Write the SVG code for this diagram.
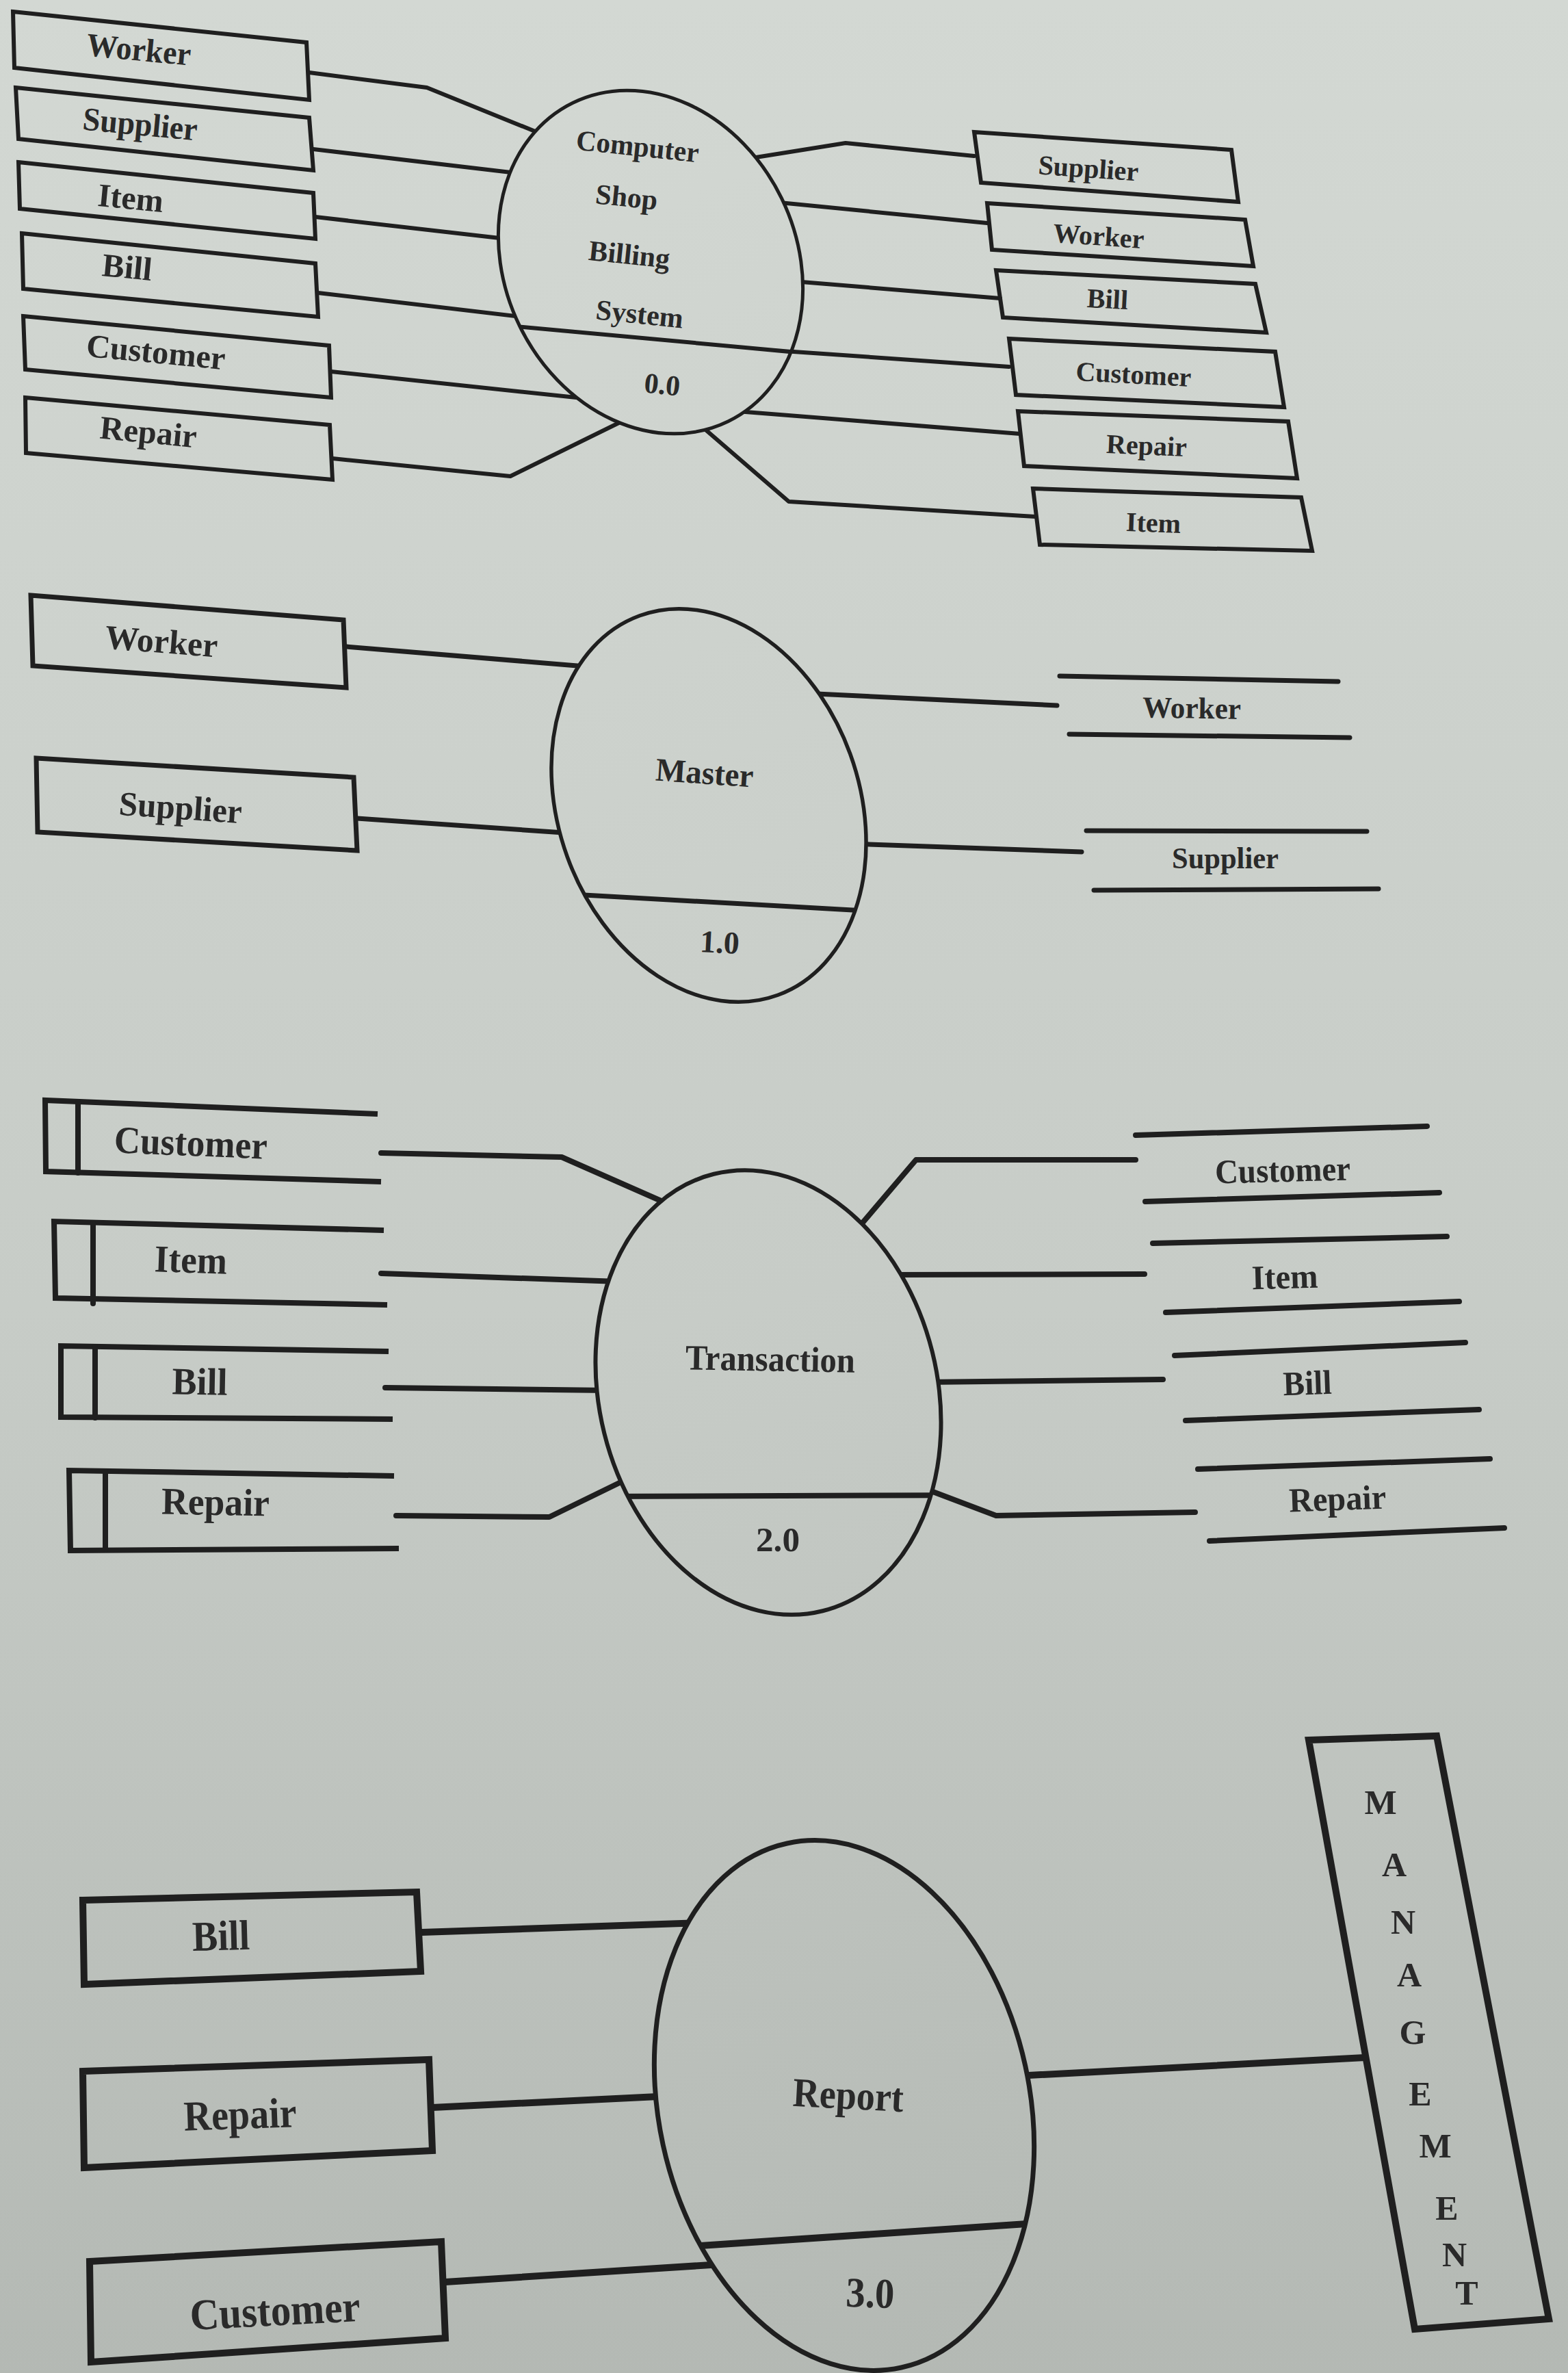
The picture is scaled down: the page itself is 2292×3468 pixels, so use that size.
<svg xmlns="http://www.w3.org/2000/svg" width="2292" height="3468" viewBox="0 0 2292 3468">
<defs>
<linearGradient id="paper" gradientUnits="userSpaceOnUse" x1="0" y1="0" x2="0" y2="3468">
<stop offset="0" stop-color="#d3d8d3"/>
<stop offset="0.55" stop-color="#c7ccc7"/>
<stop offset="1" stop-color="#b4b9b4"/>
</linearGradient>
<clipPath id="c1"><ellipse cx="951" cy="383" rx="213" ry="259" transform="rotate(-26 951 383)"/></clipPath>
<clipPath id="c2"><ellipse cx="1036" cy="1177" rx="220" ry="295" transform="rotate(-20 1036 1177)"/></clipPath>
<clipPath id="c3"><ellipse cx="1123" cy="2035" rx="247" ry="329" transform="rotate(-14 1123 2035)"/></clipPath>
<clipPath id="c4"><ellipse cx="1234" cy="3077" rx="271" ry="392" transform="rotate(-12.3 1234 3077)"/></clipPath>
</defs>
<style>
.ln{fill:none;stroke:#1f1f1f;stroke-linecap:round;stroke-linejoin:round}
.box{fill:none;stroke:#1f1f1f;stroke-linejoin:miter}
.proc{fill:url(#paper);stroke:#1f1f1f}
.t{font-family:"Liberation Serif","Times New Roman",serif;font-weight:bold;fill:#2a2a2a;text-anchor:middle;dominant-baseline:central}
.s1{stroke-width:6}
.s2{stroke-width:7}
.s3{stroke-width:8}
.s4{stroke-width:10}
</style>
<rect x="0" y="0" width="2292" height="3468" fill="url(#paper)"/>

<g id="connectors">
<!-- section 1 -->
<polyline class="ln s1" points="452,106 624,128 792,196"/>
<polyline class="ln s1" points="458,218 764,254"/>
<polyline class="ln s1" points="461,317 748,350"/>
<polyline class="ln s1" points="465,428 779,465"/>
<polyline class="ln s1" points="484,543 871,584"/>
<polyline class="ln s1" points="486,670 746,696 929,606"/>
<polyline class="ln s1" points="1080,234 1236,209 1424,228"/>
<polyline class="ln s1" points="1109,293 1443,326"/>
<polyline class="ln s1" points="1147,410 1462,436"/>
<polyline class="ln s1" points="1131,512 1475,536"/>
<polyline class="ln s1" points="1077,601 1491,634"/>
<polyline class="ln s1" points="1022,620 1153,733 1513,755"/>
<!-- section 2 -->
<polyline class="ln s2" points="506,945 868,975"/>
<polyline class="ln s2" points="522,1196 839,1218"/>
<polyline class="ln s2" points="1173,1013 1545,1031"/>
<polyline class="ln s2" points="1243,1233 1581,1245"/>
<!-- section 3 -->
<polyline class="ln s3" points="557,1685 821,1691 980,1761"/>
<polyline class="ln s3" points="557,1861 905,1873"/>
<polyline class="ln s3" points="563,2028 889,2032"/>
<polyline class="ln s3" points="579,2215 803,2217 928,2156"/>
<polyline class="ln s3" points="1243,1808 1339,1695 1660,1695"/>
<polyline class="ln s3" points="1306,1863 1673,1862"/>
<polyline class="ln s3" points="1351,2020 1700,2016"/>
<polyline class="ln s3" points="1345,2173 1456,2215 1747,2210"/>
<!-- section 4 -->
<polyline class="ln s4" points="616,2824 1026,2810"/>
<polyline class="ln s4" points="632,3080 982,3063"/>
<polyline class="ln s4" points="651,3335 1055,3309"/>
<polyline class="ln s4" points="1485,3034 1995,3007"/>
</g>

<!-- ===== Section 1 : context ===== -->
<g id="s1-left-worker"><polygon class="box s1" points="19,17 448,62 452,146 21,99"/><text class="t" x="203" y="72" font-size="48" textLength="153" lengthAdjust="spacingAndGlyphs" transform="rotate(5.5 203 72)">Worker</text></g>
<g id="s1-left-supplier"><polygon class="box s1" points="23,128 452,172 458,249 27,203"/><text class="t" x="205" y="181" font-size="48" textLength="168" lengthAdjust="spacingAndGlyphs" transform="rotate(5.5 205 181)">Supplier</text></g>
<g id="s1-left-item"><polygon class="box s1" points="27,237 458,282 461,349 29,305"/><text class="t" x="191" y="289" font-size="48" textLength="96" lengthAdjust="spacingAndGlyphs" transform="rotate(5.5 191 289)">Item</text></g>
<g id="s1-left-bill"><polygon class="box s1" points="32,341 461,385 465,463 34,422"/><text class="t" x="186" y="390" font-size="48" textLength="73" lengthAdjust="spacingAndGlyphs" transform="rotate(5.5 186 390)">Bill</text></g>
<g id="s1-left-customer"><polygon class="box s1" points="34,462 481,505 484,581 37,540"/><text class="t" x="228" y="514" font-size="48" textLength="204" lengthAdjust="spacingAndGlyphs" transform="rotate(5.5 228 514)">Customer</text></g>
<g id="s1-left-repair"><polygon class="box s1" points="37,581 482,621 486,701 38,662"/><text class="t" x="217" y="631" font-size="48" textLength="142" lengthAdjust="spacingAndGlyphs" transform="rotate(5.5 217 631)">Repair</text></g>

<g id="s1-process">
<ellipse class="proc" stroke-width="5" cx="951" cy="383" rx="213" ry="259" transform="rotate(-26 951 383)"/>
<line class="ln s1" x1="700" y1="472" x2="1220" y2="520" clip-path="url(#c1)"/>
<text class="t" x="932" y="214" font-size="42" textLength="180" lengthAdjust="spacingAndGlyphs" transform="rotate(6 932 214)">Computer</text>
<text class="t" x="916" y="288" font-size="42" transform="rotate(6 916 288)">Shop</text>
<text class="t" x="920" y="372" font-size="42" transform="rotate(6 920 372)">Billing</text>
<text class="t" x="935" y="459" font-size="42" transform="rotate(6 935 459)">System</text>
<text class="t" x="968" y="562" font-size="42" transform="rotate(6 968 562)">0.0</text>
</g>

<g id="s1-right-supplier"><polygon class="box s1" points="1424,193 1800,219 1810,295 1434,267"/><text class="t" x="1591" y="246" font-size="40" transform="rotate(4 1591 246)">Supplier</text></g>
<g id="s1-right-worker"><polygon class="box s1" points="1443,297 1820,321 1832,389 1450,365"/><text class="t" x="1606" y="345" font-size="40" transform="rotate(4 1606 345)">Worker</text></g>
<g id="s1-right-bill"><polygon class="box s1" points="1456,395 1835,415 1851,486 1466,464"/><text class="t" x="1619" y="437" font-size="40" transform="rotate(3 1619 437)">Bill</text></g>
<g id="s1-right-customer"><polygon class="box s1" points="1475,495 1864,514 1877,595 1485,577"/><text class="t" x="1657" y="547" font-size="40" transform="rotate(3 1657 547)">Customer</text></g>
<g id="s1-right-repair"><polygon class="box s1" points="1488,601 1883,616 1896,699 1497,681"/><text class="t" x="1676" y="651" font-size="40" transform="rotate(2.5 1676 651)">Repair</text></g>
<g id="s1-right-item"><polygon class="box s1" points="1510,714 1902,727 1918,805 1520,796"/><text class="t" x="1686" y="764" font-size="40" transform="rotate(2 1686 764)">Item</text></g>

<!-- ===== Section 2 : Master ===== -->
<g id="s2-left-worker"><polygon class="box s2" points="45,870 502,906 506,1005 48,973"/><text class="t" x="236" y="937" font-size="50" textLength="165" lengthAdjust="spacingAndGlyphs" transform="rotate(4.5 236 937)">Worker</text></g>
<g id="s2-left-supplier"><polygon class="box s2" points="53,1108 517,1136 522,1243 55,1216"/><text class="t" x="264" y="1180" font-size="50" textLength="180" lengthAdjust="spacingAndGlyphs" transform="rotate(4 264 1180)">Supplier</text></g>
<g id="s2-process">
<ellipse class="proc" stroke-width="5.5" cx="1036" cy="1177" rx="220" ry="295" transform="rotate(-20 1036 1177)"/>
<line class="ln s2" x1="800" y1="1305" x2="1300" y2="1333" clip-path="url(#c2)"/>
<text class="t" x="1030" y="1129" font-size="48" textLength="143" lengthAdjust="spacingAndGlyphs" transform="rotate(4 1030 1129)">Master</text>
<text class="t" x="1052" y="1377" font-size="46" transform="rotate(3 1052 1377)">1.0</text>
</g>
<g id="s2-store-worker"><line class="ln s2" x1="1549" y1="988" x2="1956" y2="996"/><line class="ln s2" x1="1563" y1="1073" x2="1973" y2="1078"/><text class="t" x="1742" y="1035" font-size="44" textLength="144" lengthAdjust="spacingAndGlyphs" transform="rotate(1 1742 1035)">Worker</text></g>
<g id="s2-store-supplier"><line class="ln s2" x1="1588" y1="1214" x2="1998" y2="1215"/><line class="ln s2" x1="1599" y1="1301" x2="2015" y2="1299"/><text class="t" x="1791" y="1254" font-size="44" textLength="156" lengthAdjust="spacingAndGlyphs">Supplier</text></g>

<!-- ===== Section 3 : Transaction ===== -->
<g id="s3-store-customer-in"><path class="box s3" d="M552,1628 L66,1608 L67,1712 L557,1727"/><line class="ln s3" x1="114" y1="1610" x2="114" y2="1714"/><text class="t" x="279" y="1670" font-size="56" textLength="224" lengthAdjust="spacingAndGlyphs" transform="rotate(2.4 279 1670)">Customer</text></g>
<g id="s3-store-item-in"><path class="box s3" d="M561,1798 L79,1785 L81,1897 L566,1907"/><line class="ln s3" x1="136" y1="1787" x2="136" y2="1905"/><text class="t" x="279" y="1841" font-size="56" textLength="106" lengthAdjust="spacingAndGlyphs" transform="rotate(2 279 1841)">Item</text></g>
<g id="s3-store-bill-in"><path class="box s3" d="M568,1975 L89,1967 L89,2071 L574,2074"/><line class="ln s3" x1="139" y1="1968" x2="139" y2="2072"/><text class="t" x="292" y="2019" font-size="56" textLength="81" lengthAdjust="spacingAndGlyphs" transform="rotate(1 292 2019)">Bill</text></g>
<g id="s3-store-repair-in"><path class="box s3" d="M576,2157 L101,2149 L103,2266 L583,2263"/><line class="ln s3" x1="154" y1="2150" x2="154" y2="2265"/><text class="t" x="315" y="2195" font-size="56" textLength="158" lengthAdjust="spacingAndGlyphs" transform="rotate(1 315 2195)">Repair</text></g>
<g id="s3-process">
<ellipse class="proc" stroke-width="6" cx="1123" cy="2035" rx="247" ry="329" transform="rotate(-14 1123 2035)"/>
<line class="ln s3" x1="850" y1="2187" x2="1420" y2="2185" clip-path="url(#c3)"/>
<text class="t" x="1126" y="1986" font-size="52" textLength="248" lengthAdjust="spacingAndGlyphs" transform="rotate(1 1126 1986)">Transaction</text>
<text class="t" x="1137" y="2250" font-size="50" textLength="64" lengthAdjust="spacingAndGlyphs">2.0</text>
</g>
<g id="s3-store-customer-out"><line class="ln s3" x1="1660" y1="1659" x2="2086" y2="1646"/><line class="ln s3" x1="1674" y1="1756" x2="2104" y2="1743"/><text class="t" x="1875" y="1710" font-size="50" textLength="198" lengthAdjust="spacingAndGlyphs" transform="rotate(-1.5 1875 1710)">Customer</text></g>
<g id="s3-store-item-out"><line class="ln s3" x1="1685" y1="1817" x2="2115" y2="1807"/><line class="ln s3" x1="1704" y1="1918" x2="2133" y2="1902"/><text class="t" x="1878" y="1866" font-size="50" textLength="97" lengthAdjust="spacingAndGlyphs" transform="rotate(-1.5 1878 1866)">Item</text></g>
<g id="s3-store-bill-out"><line class="ln s3" x1="1717" y1="1981" x2="2142" y2="1962"/><line class="ln s3" x1="1733" y1="2076" x2="2162" y2="2060"/><text class="t" x="1911" y="2021" font-size="50" textLength="71" lengthAdjust="spacingAndGlyphs" transform="rotate(-2 1911 2021)">Bill</text></g>
<g id="s3-store-repair-out"><line class="ln s3" x1="1751" y1="2147" x2="2178" y2="2132"/><line class="ln s3" x1="1768" y1="2252" x2="2199" y2="2233"/><text class="t" x="1955" y="2190" font-size="50" textLength="142" lengthAdjust="spacingAndGlyphs" transform="rotate(-2 1955 2190)">Repair</text></g>

<!-- ===== Section 4 : Report ===== -->
<g id="s4-bill"><polygon class="box s4" points="121,2777 609,2765 615,2881 123,2900"/><text class="t" x="323" y="2829" font-size="62" textLength="84" lengthAdjust="spacingAndGlyphs" transform="rotate(-1.5 323 2829)">Bill</text></g>
<g id="s4-repair"><polygon class="box s4" points="121,3027 627,3010 632,3143 123,3168"/><text class="t" x="351" y="3090" font-size="62" textLength="165" lengthAdjust="spacingAndGlyphs" transform="rotate(-2 351 3090)">Repair</text></g>
<g id="s4-customer"><polygon class="box s4" points="131,3305 645,3276 651,3417 133,3452"/><text class="t" x="402" y="3377" font-size="64" textLength="249" lengthAdjust="spacingAndGlyphs" transform="rotate(-3 402 3377)">Customer</text></g>
<g id="s4-process">
<ellipse class="proc" stroke-width="7" cx="1234" cy="3077" rx="271" ry="392" transform="rotate(-12.3 1234 3077)"/>
<line class="ln s4" x1="980" y1="3285" x2="1560" y2="3246" clip-path="url(#c4)"/>
<text class="t" x="1240" y="3062" font-size="60" textLength="162" lengthAdjust="spacingAndGlyphs" transform="rotate(3 1240 3062)">Report</text>
<text class="t" x="1272" y="3351" font-size="62" textLength="71" lengthAdjust="spacingAndGlyphs" transform="rotate(2 1272 3351)">3.0</text>
</g>
<g id="s4-management">
<polygon class="box s4" stroke-width="8" points="1913,2543 2100,2537 2264,3389 2068,3404"/>
<text class="t" font-size="50" x="2018" y="2634">M</text>
<text class="t" font-size="50" x="2038" y="2725">A</text>
<text class="t" font-size="50" x="2051" y="2809">N</text>
<text class="t" font-size="50" x="2060" y="2886">A</text>
<text class="t" font-size="50" x="2065" y="2970">G</text>
<text class="t" font-size="50" x="2076" y="3060">E</text>
<text class="t" font-size="50" x="2098" y="3136">M</text>
<text class="t" font-size="50" x="2115" y="3227">E</text>
<text class="t" font-size="50" x="2126" y="3295">N</text>
<text class="t" font-size="50" x="2144" y="3351">T</text>
</g>
</svg>
